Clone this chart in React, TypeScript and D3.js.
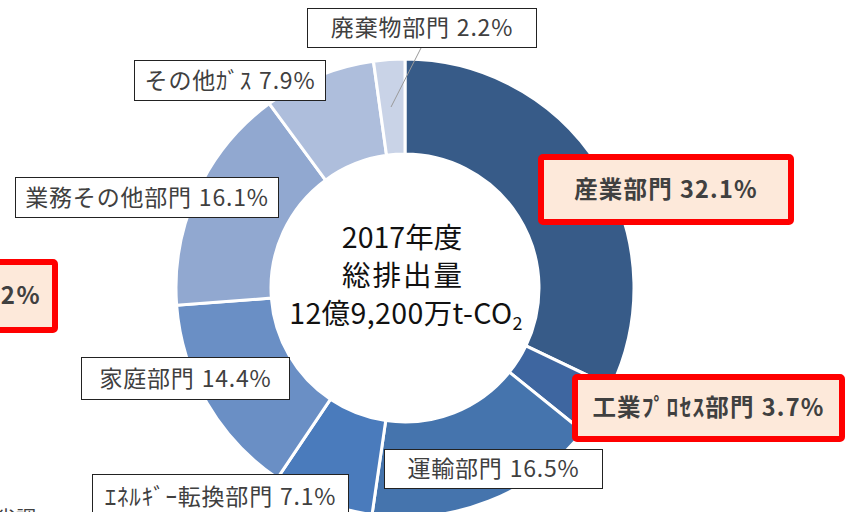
import React, { useEffect, useRef } from 'react';
import * as d3 from 'd3';

// sectors clockwise from 12 o'clock
const categories = ['産業部門', '工業ﾌﾟﾛｾｽ部門', '運輸部門', 'ｴﾈﾙｷﾞｰ転換部門', '家庭部門', '業務その他部門', 'その他ｶﾞｽ', '廃棄物部門'];
const shares = [32.1, 3.7, 16.5, 7.1, 14.4, 16.1, 7.9, 2.2];
const colors = ['#375B88', '#3E66A0', '#4574AD', '#4A7BBC', '#6A8FC5', '#91A8D0', '#AEBEDC', '#C9D3E7'];
const highlighted = ['産業部門', '工業ﾌﾟﾛｾｽ部門'];

const centerLines = ['2017年度', '総排出量'];
const totalLabel = { pre: '12億9,200万t-CO', sub: '2' };

// label boxes (layout only): x, y, w, h
const labelBoxes: Record<string, [number, number, number, number]> = {
  '産業部門': [541, 157, 250, 65],
  '工業ﾌﾟﾛｾｽ部門': [575, 377, 267, 62],
  '運輸部門': [384.5, 449.5, 218, 39],
  'ｴﾈﾙｷﾞｰ転換部門': [92.5, 474.5, 256, 45],
  '家庭部門': [81.5, 357.5, 208, 42],
  '業務その他部門': [15.5, 177.5, 263, 40],
  'その他ｶﾞｽ': [134.5, 60.5, 191, 40],
  '廃棄物部門': [307.5, 8.5, 229, 39],
};

const FONT = "'Noto Sans CJK JP', 'Noto Sans', sans-serif";

const App = () => {
  const ref = useRef<SVGSVGElement>(null);

  useEffect(() => {
    const svg = d3.select(ref.current);
    svg.selectAll('*').remove();

    const cx = 405;
    const cy = 288;
    const outerR = 229;
    const innerR = 134;

    const data = categories.map((c, i) => ({ name: c, value: shares[i], color: colors[i] }));
    const pie = d3.pie<any>().sort(null).value((d) => d.value);
    const arc = d3.arc<any>().innerRadius(innerR).outerRadius(outerR);
    const arcs = pie(data);

    const g = svg.append('g').attr('transform', `translate(${cx},${cy})`);
    g.selectAll('path')
      .data(arcs)
      .enter()
      .append('path')
      .attr('d', arc)
      .attr('fill', (d) => d.data.color)
      .attr('stroke', '#fff')
      .attr('stroke-width', 3);

    // center text
    const ct = svg.append('g').attr('font-family', FONT).attr('fill', '#111').attr('text-anchor', 'middle');
    ct.append('text').attr('x', cx - 3).attr('y', 248).attr('font-size', 28.5).text(centerLines[0]);
    ct.append('text').attr('x', cx - 2).attr('y', 286).attr('font-size', 28.5).attr('letter-spacing', 2).text(centerLines[1]);
    const t3 = ct.append('text').attr('x', cx + 1).attr('y', 324).attr('font-size', 28.5).attr('letter-spacing', 0.4);
    t3.append('tspan').text(totalLabel.pre);
    t3.append('tspan').attr('font-size', 18).attr('dy', 6).text(totalLabel.sub);

    // leader line for the small waste slice
    svg.append('line')
      .attr('x1', 421).attr('y1', 48)
      .attr('x2', 391).attr('y2', 107)
      .attr('stroke', '#9a9a9a').attr('stroke-width', 1);

    // labels
    const lg = svg.append('g').attr('font-family', FONT);
    data.forEach((d) => {
      const [x, y, w, h] = labelBoxes[d.name];
      const hi = highlighted.includes(d.name);
      lg.append('rect')
        .attr('x', x).attr('y', y).attr('width', w).attr('height', h)
        .attr('fill', hi ? '#FDE9DA' : '#fff')
        .attr('stroke', hi ? '#FF0000' : '#222')
        .attr('stroke-width', hi ? 6 : 1)
        .attr('rx', hi ? 2 : 0);
      const t = lg.append('text')
        .attr('x', x + w / 2).attr('y', y + h / 2 + 8)
        .attr('text-anchor', 'middle')
        .attr('font-size', hi ? 23.5 : 23)
        .attr('font-weight', hi ? 700 : 400)
        .attr('letter-spacing', hi ? 1.2 : 0.8)
        .attr('fill', '#404040');
      t.append('tspan').text(d.name);
      t.append('tspan').attr('dx', 7).text(`${d.value.toFixed(1)}%`);
    });

    // partially visible highlighted box at the left edge
    lg.append('rect')
      .attr('x', -120).attr('y', 262).attr('width', 175).attr('height', 68)
      .attr('fill', '#FDE9DA').attr('stroke', '#FF0000').attr('stroke-width', 6).attr('rx', 2);
    lg.append('text')
      .attr('x', 41).attr('y', 304).attr('text-anchor', 'end')
      .attr('font-size', 24).attr('font-weight', 700).attr('letter-spacing', 1.5).attr('fill', '#404040')
      .text('ｴﾈﾙｷﾞｰ起源CO2 86.2%');

    // cut-off source note at the bottom left
    lg.append('text')
      .attr('x', 36).attr('y', 526).attr('text-anchor', 'end')
      .attr('font-size', 20).attr('fill', '#404040')
      .text('環境省調');
  }, []);

  return (
    <div style={{ position: 'absolute', left: 0, top: 0 }}>
      <svg ref={ref} width={855} height={512} style={{ display: 'block', background: '#fff' }} />
    </div>
  );
};

export default App;
